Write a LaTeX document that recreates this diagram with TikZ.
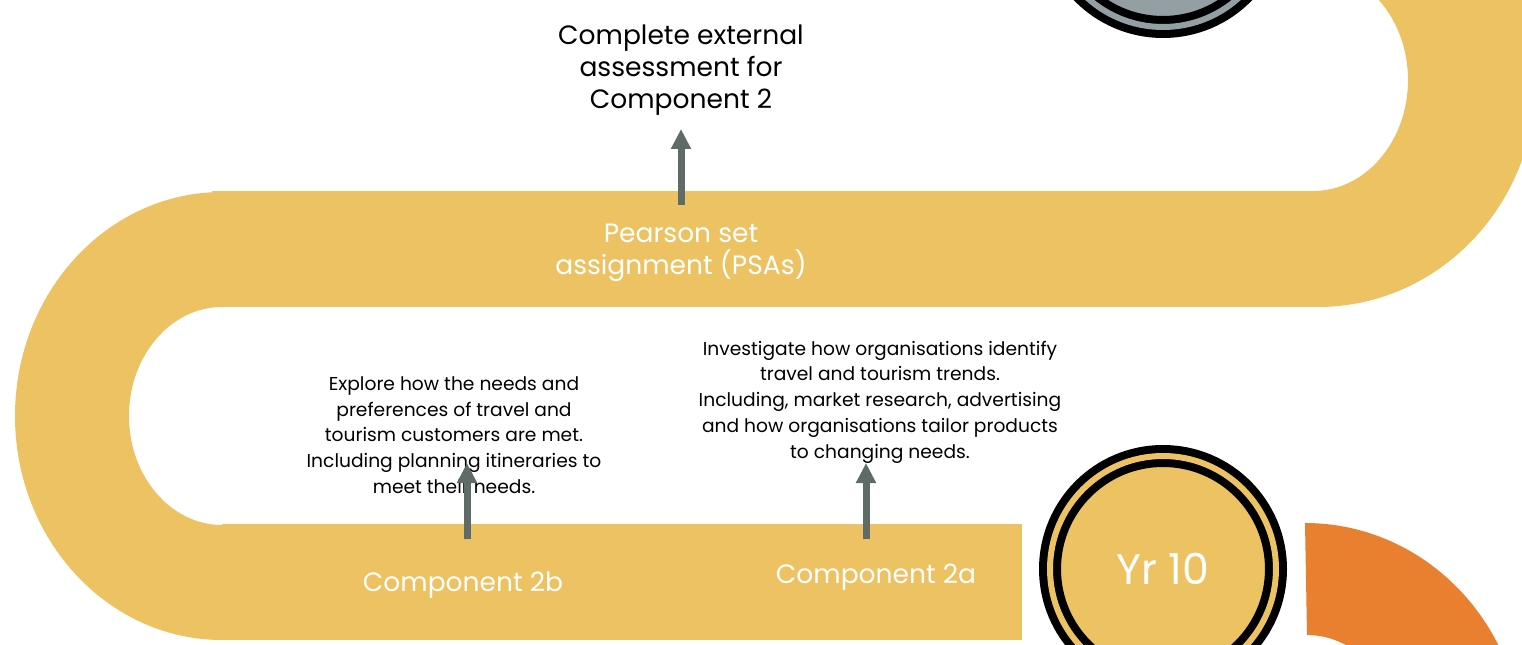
\documentclass[tikz,border=0pt]{standalone}
\usepackage{fontspec}
\setmainfont{Poppins}
\usetikzlibrary{arrows.meta}
\definecolor{trackyellow}{HTML}{ECC263}
\definecolor{trackorange}{HTML}{E8802F}
\definecolor{coingray}{HTML}{939FA3}
\definecolor{arrowgray}{HTML}{5F6B66}
\tikzset{
  bigtext/.style={align=center, inner sep=0pt, font=\fontsize{19.9}{24}\selectfont},
  smalltext/.style={align=center, inner sep=0pt, font=\fontsize{14}{19.3}\selectfont},
  uparrow/.style={draw=arrowgray, line width=5.25pt, -{Triangle[width=14.25pt,length=15pt]}},
  coin/.style={circle, draw=black, line width=6pt, double distance=4.5pt, minimum size=169.5pt, inner sep=0pt, text=white, font=\fontsize{32}{38}\selectfont}
}
\begin{document}
\begin{tikzpicture}[x=0.75pt,y=0.75pt]
\useasboundingbox (0,0) rectangle (1522,-645);
\clip (0,0) rectangle (1522,-645);
% track
\fill[trackyellow] (212,-191) rectangle (1318,-307);
\fill[trackyellow] (1318,-307) arc[start angle=-90,end angle=90,x radius=218,y radius=227]
  -- (1313,31) arc[start angle=90,end angle=-90,x radius=95,y radius=111] -- cycle;
\fill[trackyellow] (222,-192) arc[start angle=90,end angle=270,x radius=207,y radius=224]
  -- (222,-525) arc[start angle=270,end angle=90,x radius=93,y radius=109] -- cycle;
\fill[trackyellow] (222,-524) rectangle (1022,-640);
\fill[trackorange] (1305,-523) arc[start angle=90,end angle=0,x radius=218,y radius=227]
  -- (1402,-750) arc[start angle=0,end angle=90,x radius=95,y radius=115] -- cycle;
% coins
\node[coin, fill=coingray, double=coingray] (topcoin) at (1163,86) {};
\node[coin, fill=trackyellow, double=trackyellow] (yr) at (1163,-569) {Yr 10};
% texts
\node[bigtext] (ext) at (681,-70) {Complete external\\assessment for\\Component 2};
\node[bigtext, text=white] (psa) at (681,-253) {Pearson set\\assignment (PSAs)};
\node[bigtext, text=white] (c2b) at (463,-585) {Component 2b};
\node[bigtext, text=white] (c2a) at (876,-577) {Component 2a};
\node[smalltext] (d2b) at (454,-435) {Explore how the needs and\\preferences of travel and\\tourism customers are met.\\Including planning itineraries to\\meet their needs.};
\node[smalltext] (d2a) at (880,-402) {Investigate how organisations identify\\travel and tourism trends.\\Including, market research, advertising\\and how organisations tailor products\\to changing needs.};
% arrows
\coordinate (a1s) at (681,-205); \coordinate (a1e) at (681,-129);
\coordinate (a2s) at (467,-539); \coordinate (a2e) at (467,-463);
\coordinate (a3s) at (866,-539); \coordinate (a3e) at (866,-463);
\draw[uparrow] (a1s) -- (a1e);
\draw[uparrow] (a2s) -- (a2e);
\draw[uparrow] (a3s) -- (a3e);
\end{tikzpicture}
\end{document}
